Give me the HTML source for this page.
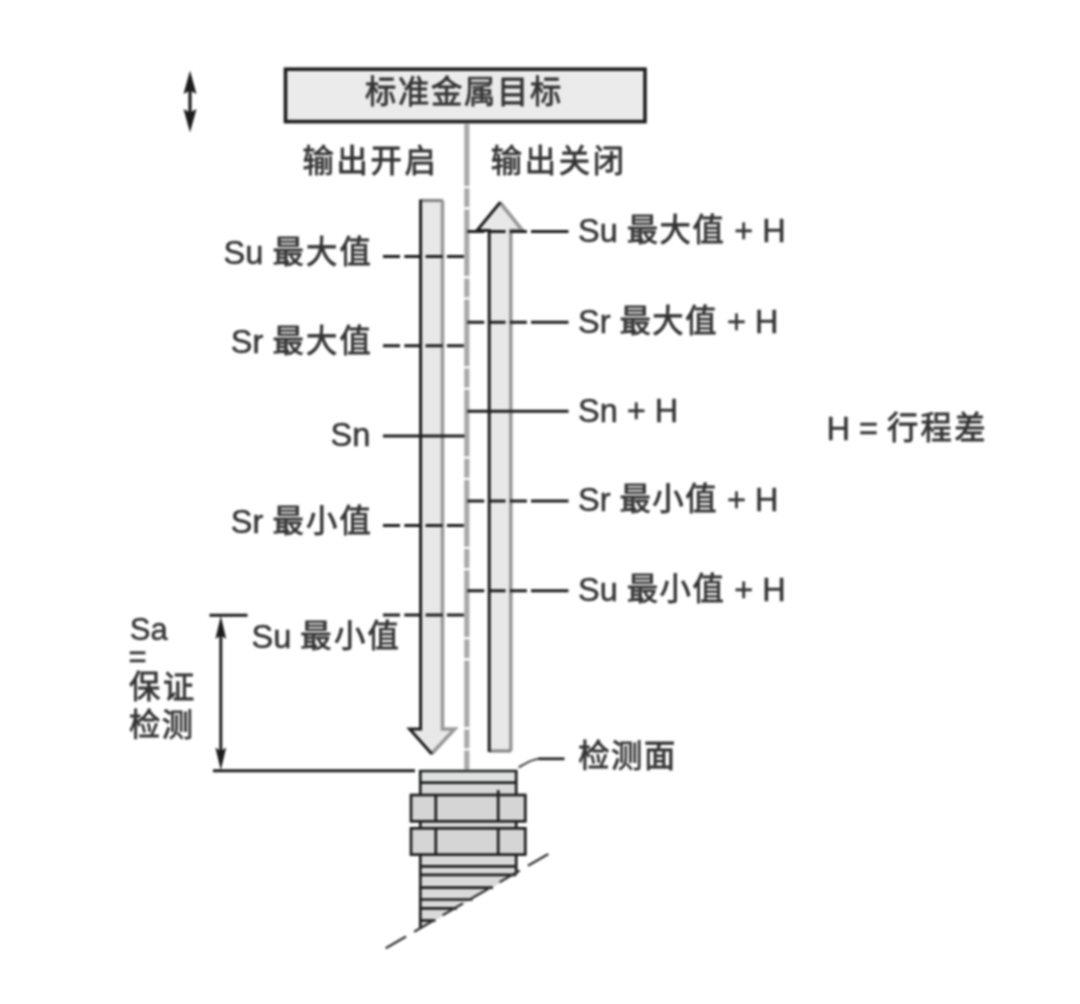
<!DOCTYPE html>
<html lang="zh-CN">
<head>
<meta charset="utf-8">
<title>标准金属目标</title>
<style>
html,body{margin:0;padding:0;background:#fff;}
body{width:1080px;height:1004px;overflow:hidden;position:relative;}
svg{position:absolute;left:0;top:0;display:block;}
text{font-family:"Liberation Sans","Noto Sans CJK SC",sans-serif;font-size:32.5px;fill:#333;stroke:#333;stroke-width:0.5;white-space:pre;}
.c{stroke-width:0.8;font-size:31.300px;letter-spacing:1.500px;}
.t .c{letter-spacing:1.700px;}
.u .c{letter-spacing:2.700px;}
.l .c{letter-spacing:2.300px;}
.ln{stroke:#1c1c1c;stroke-width:3;fill:none;}
.sn .ln,.sn.ln{stroke-width:2.700;}
.gl{stroke:#989898;stroke-width:3.6;fill:none;}
</style>
</head>
<body>
<svg width="1080" height="1004" viewBox="0 0 1080 1004">
<defs>
<filter id="soft" x="0" y="0" width="1080" height="1004" filterUnits="userSpaceOnUse" color-interpolation-filters="sRGB"><feGaussianBlur stdDeviation="0.9"/></filter>
</defs>
<g filter="url(#soft)">
<rect x="0" y="0" width="1080" height="1004" fill="#fff"/>

<!-- double arrow top-left -->
<g id="dblarrow">
<line x1="190" y1="84" x2="190" y2="120" stroke="#1c1c1c" stroke-width="3.200"/>
<path d="M190 70.5 L196.5 94 L190 90.5 L183.5 94 Z" fill="#1c1c1c"/>
<path d="M190 132.5 L196.5 109 L190 112.500 L183.5 109 Z" fill="#1c1c1c"/>
</g>

<!-- target box -->
<rect x="285.500" y="69.200" width="359.500" height="52.400" fill="#ebebeb" stroke="#1c1c1c" stroke-width="3.600"/>
<text x="464" y="103.500" text-anchor="middle" class="t"><tspan class="c" dy="-1">标准金属目标</tspan></text>

<text x="370.500" y="172.500" text-anchor="middle" class="u"><tspan class="c" dy="-1">输出开启</tspan></text>
<text x="558.700" y="172.500" text-anchor="middle" class="u"><tspan class="c" dy="-1">输出关闭</tspan></text>

<!-- centre dash-dot line -->
<line x1="466.800" y1="123" x2="466.800" y2="769.500" stroke="#a9a9a9" stroke-width="5.200" stroke-dasharray="66.700 2.300 18.900 2.300" stroke-dashoffset="3.800"/>

<!-- left bar w/ down arrow -->
<path d="M420.600 200.500 H442.500 V729 H454.600 L431.500 754 L409.600 729 H420.600 Z" fill="#e8e8e8" stroke="none"/>
<path d="M442.500 200.500 V729 H454.600 L431.500 754" class="gl"/>
<path d="M442.800 200.500 H420.600" stroke="#888" stroke-width="3.200" fill="none"/>
<path d="M420.600 199.500 V729 H409.600 L431.800 754" class="ln"/>

<!-- right bar w/ up arrow -->
<path d="M489.200 751 V230.500 H477 L500 202.500 L522.500 230.500 H510.800 V751 Z" fill="#e8e8e8" stroke="none"/>
<path d="M500 202.500 L522.500 230.500 H510.800 V751" class="gl"/>
<path d="M511.100 751 H489.200" stroke="#888" stroke-width="3.200" fill="none"/>
<path d="M489.200 752 V230.500 H477 L500.300 202.300" class="ln"/>

<!-- left level lines -->
<g class="ln">
<line x1="383" y1="256.600" x2="464.500" y2="256.600" stroke-dasharray="17 4.300"/>
<line x1="383" y1="345.800" x2="464.500" y2="345.800" stroke-dasharray="17 4.300"/>
<line x1="383" y1="436" x2="464.500" y2="436"/>
<line x1="383" y1="525.600" x2="464.500" y2="525.600" stroke-dasharray="17 4.300"/>
<line x1="383" y1="615" x2="464.500" y2="615" stroke-dasharray="17 4.300"/>
</g>

<!-- right level lines -->
<g class="ln">
<line x1="467.300" y1="231.600" x2="531" y2="231.600" stroke-dasharray="17 4.300"/>
<line x1="531" y1="231.600" x2="568.500" y2="231.600"/>
<line x1="467.300" y1="322.200" x2="531" y2="322.200" stroke-dasharray="17 4.300"/>
<line x1="531" y1="322.200" x2="568.500" y2="322.200"/>
<line x1="467.300" y1="411.300" x2="568.500" y2="411.300"/>
<line x1="467.300" y1="501" x2="531" y2="501" stroke-dasharray="17 4.300"/>
<line x1="531" y1="501" x2="568.500" y2="501"/>
<line x1="467.300" y1="590.700" x2="531" y2="590.700" stroke-dasharray="17 4.300"/>
<line x1="531" y1="590.700" x2="568.500" y2="590.700"/>
</g>

<!-- left labels -->
<text x="373.200" y="263.800" text-anchor="end" class="l">Su <tspan class="c" dy="-1">最大值</tspan></text>
<text x="373.200" y="353.100" text-anchor="end" class="l">Sr <tspan class="c" dy="-1">最大值</tspan></text>
<text x="370.300" y="446" text-anchor="end">Sn</text>
<text x="373.200" y="533" text-anchor="end" class="l">Sr <tspan class="c" dy="-1">最小值</tspan></text>
<text x="401.100" y="647.500" text-anchor="end" class="l">Su <tspan class="c" dy="-1">最小值</tspan></text>

<!-- right labels -->
<text x="578" y="242">Su <tspan class="c" dy="-1">最大值</tspan><tspan dy="1"> + H</tspan></text>
<text x="578" y="332.500">Sr <tspan class="c" dy="-1">最大值</tspan><tspan dy="1"> + H</tspan></text>
<text x="578" y="421.500">Sn + H</text>
<text x="578" y="511">Sr <tspan class="c" dy="-1">最小值</tspan><tspan dy="1"> + H</tspan></text>
<text x="578" y="601">Su <tspan class="c" dy="-1">最小值</tspan><tspan dy="1"> + H</tspan></text>

<text x="826.500" y="439.600" class="l">H = <tspan class="c" dy="-1">行程差</tspan></text>

<!-- Sa dimension -->
<g class="ln">
<line x1="209.500" y1="615.300" x2="247.500" y2="615.300"/>
<line x1="213" y1="770.800" x2="415" y2="770.800"/>
<line x1="220.800" y1="628" x2="220.800" y2="758"/>
</g>
<path d="M220.800 615.800 L226.200 639 L220.800 635.500 L215.400 639 Z" fill="#1c1c1c"/>
<path d="M220.800 770.300 L226.200 747.500 L220.800 751 L215.400 747.500 Z" fill="#1c1c1c"/>

<text x="129.800" y="639.800" style="font-size:31px">Sa</text>
<text x="128.500" y="667" style="font-size:31px">=</text>
<text x="129" y="698.500" class="u"><tspan class="c" dy="-1">保证</tspan></text>
<text x="129" y="737"><tspan class="c" dy="-1">检测</tspan></text>

<!-- sensor -->
<g id="sensor" style="stroke-width:2.700">
<!-- body -->
<path d="M420.300 771 H516.200 V874 L420.300 929 Z" fill="#d9d9d9" stroke="none"/>
<rect x="420.300" y="771" width="95.900" height="11.500" fill="#dfe1e1"/>
<!-- nuts -->
<rect x="411" y="795" width="114.300" height="26.300" class="ln sn" style="fill:#d5d5d6"/>
<rect x="411" y="828.300" width="114.300" height="26.300" class="ln sn" style="fill:#d5d5d6"/>
<g class="ln sn">
<path d="M420.300 795 V771 H516.200 V795"/>
<line x1="420.300" y1="782.600" x2="516.200" y2="782.600"/>
<line x1="435.800" y1="795" x2="435.800" y2="821"/>
<line x1="498.200" y1="790" x2="498.200" y2="821"/>
<line x1="435.800" y1="828.300" x2="435.800" y2="854.600"/>
<line x1="498.200" y1="828.300" x2="498.200" y2="854.600"/>
<line x1="420.300" y1="821" x2="420.300" y2="828.300"/>
<line x1="516.200" y1="821" x2="516.200" y2="828.300"/>
<line x1="420.300" y1="854.600" x2="420.300" y2="929"/>
<line x1="516.200" y1="854.600" x2="516.200" y2="874.500"/>
<line x1="420.300" y1="866.400" x2="516.200" y2="866.400"/>
<line x1="420.300" y1="874.800" x2="516.200" y2="874.800"/>
<line x1="420.300" y1="887.700" x2="493" y2="887.700"/>
<line x1="420.300" y1="899.500" x2="472.500" y2="899.500"/>
<line x1="420.300" y1="908.400" x2="457" y2="908.400"/>
<line x1="420.300" y1="920.500" x2="435.500" y2="920.500"/>
<!-- diagonal dashed -->
<line x1="385.700" y1="948.300" x2="548.300" y2="853.900" stroke-dasharray="23.500 9.400" style="stroke-width:2.300;stroke:#333"/>
</g>
</g>

<!-- leader to 检测面 -->
<path d="M518.500 767.300 C526 763.500 531 759.300 539.500 758.800" class="ln" style="stroke-width:2;stroke:#444"/>
<path d="M538.500 758.800 H564.500" class="ln" style="stroke-width:2.700"/>
<text x="578.300" y="767.500"><tspan class="c" dy="-1">检测面</tspan></text>

</g>
</svg>
</body>
</html>
